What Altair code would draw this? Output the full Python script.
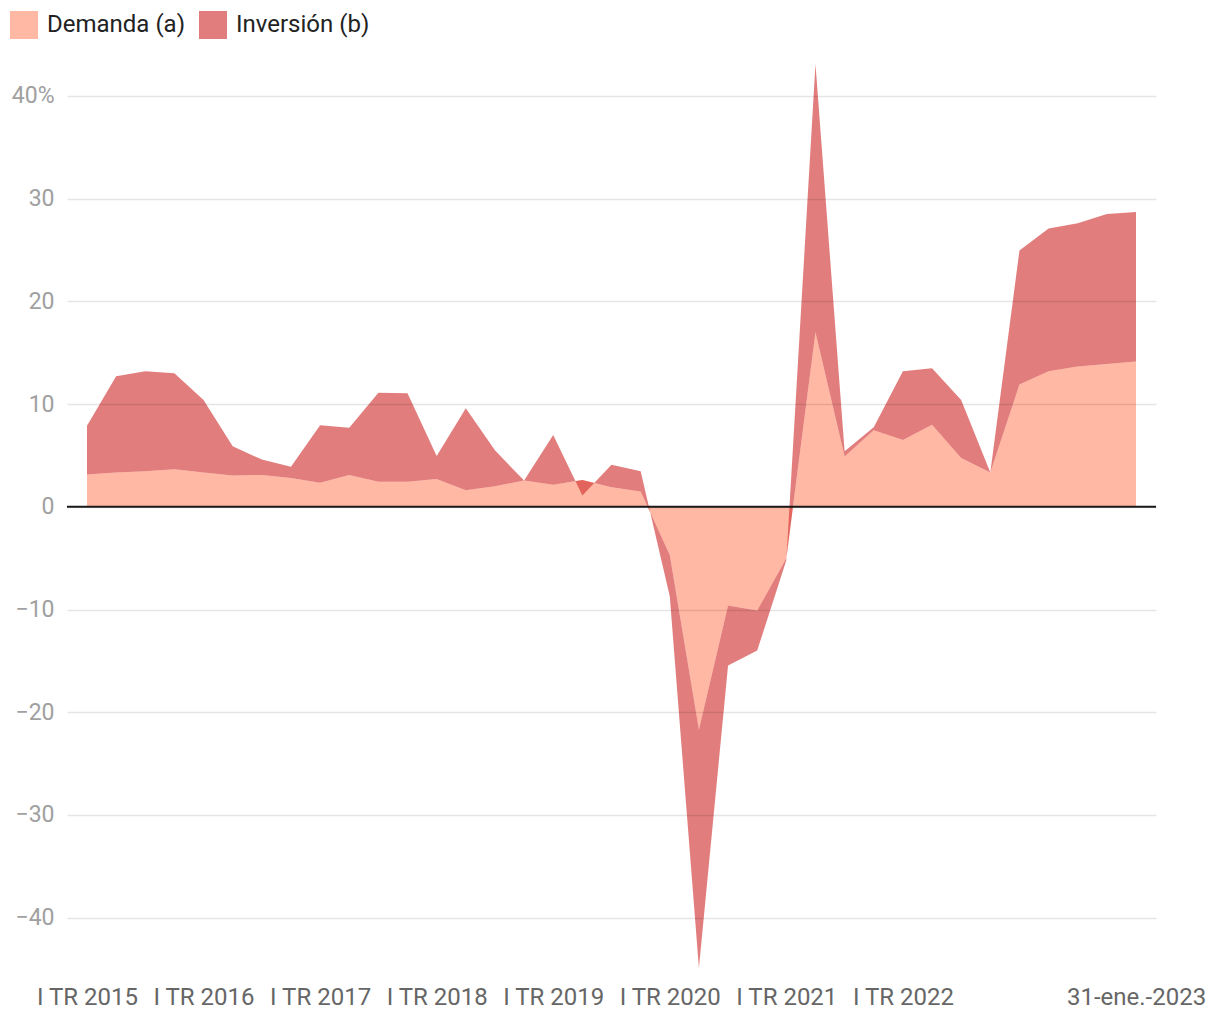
import altair as alt
import pandas as pd

# ---- data ----
periods = [
    "I TR 2015", "II TR 2015", "III TR 2015", "IV TR 2015",
    "I TR 2016", "II TR 2016", "III TR 2016", "IV TR 2016",
    "I TR 2017", "II TR 2017", "III TR 2017", "IV TR 2017",
    "I TR 2018", "II TR 2018", "III TR 2018", "IV TR 2018",
    "I TR 2019", "II TR 2019", "III TR 2019", "IV TR 2019",
    "I TR 2020", "II TR 2020", "III TR 2020", "IV TR 2020",
    "I TR 2021", "II TR 2021", "III TR 2021", "IV TR 2021",
    "I TR 2022", "II TR 2022", "III TR 2022", "IV TR 2022",
    "P33", "P34", "P35", "P36", "31-ene.-2023",
]

demanda = [3.15, 3.35, 3.45, 3.65, 3.35, 3.05, 3.1, 2.8, 2.35, 3.1,
           2.45, 2.45, 2.7, 1.6, 2.0, 2.55, 2.15, 2.6, 1.9, 1.5,
           -4.7, -21.7, -9.6, -10.1, -5.0, 17.0, 4.9, 7.45, 6.5, 8.0,
           4.75, 3.35, 11.9, 13.2, 13.65, 13.9, 14.15]

inversion = [4.75, 9.35, 9.75, 9.35, 7.05, 2.85, 1.5, 1.1, 5.6, 4.6,
             8.65, 8.6, 2.25, 8.0, 3.5, 0.0, 4.85, -1.5, 2.2, 1.95,
             -4.0, -23.2, -5.85, -3.9, -0.2, 26.1, 0.5, 0.3, 6.7, 5.5,
             5.65, 0.0, 13.05, 13.9, 13.95, 14.6, 14.55]

axis_labels = ["I TR 2015", "I TR 2016", "I TR 2017", "I TR 2018", "I TR 2019",
               "I TR 2020", "I TR 2021", "I TR 2022", "31-ene.-2023"]
y_ticks = [-40, -30, -20, -10, 0, 10, 20, 30, 40]
series_names = ["Demanda (a)", "Inversión (b)"]
series_colors = ["#ffb8a3", "#d23737"]
series_opacity = [1.0, 0.65]

rows = []
for p, d, v in zip(periods, demanda, inversion):
    rows.append({"periodo": p, "serie": series_names[0], "y0": 0.0, "y1": d})
    rows.append({"periodo": p, "serie": series_names[1], "y0": d, "y1": d + v})
df = pd.DataFrame(rows)

FONT = "Roboto"

x_enc = alt.X(
    "periodo:O",
    sort=periods,
    scale=alt.Scale(type="point", padding=0.686),
    axis=alt.Axis(values=axis_labels, labelAngle=0, ticks=False, domain=False,
                  grid=False, labelPadding=16, labelFontSize=24, labelFont=FONT,
                  labelColor="#666666", title=None, labelOverlap=False),
)

y_enc = alt.Y(
    "y1:Q",
    scale=alt.Scale(domain=[-45, 43.5], nice=False, zero=False),
    axis=alt.Axis(values=y_ticks, title=None, ticks=False, domain=False,
                  labelPadding=13, labelFontSize=23, labelFont=FONT,
                  labelColor="#a0a0a0", gridColor="#000000", gridOpacity=0.1,
                  gridWidth=1.5, zindex=1,
                  labelExpr="datum.value == 40 ? '40%' : replace(format(datum.value, 'd'), '-', '\u2212')"),
)

legend = alt.Legend(orient="none", legendX=-57, legendY=-49, direction="horizontal",
                    title=None, symbolType="square", symbolSize=784,
                    symbolStrokeWidth=0, labelFontSize=24, labelFont=FONT,
                    labelColor="#222222", labelOffset=9, columnPadding=14, padding=0)

color_enc = alt.Color("serie:N", scale=alt.Scale(domain=series_names, range=series_colors),
                      legend=legend)
opacity_enc = alt.Opacity("serie:N", scale=alt.Scale(domain=series_names, range=series_opacity),
                          legend=legend)

base = alt.Chart(df)

area_dem = base.transform_filter(alt.datum.serie == series_names[0]).mark_area(
    interpolate="linear").encode(x=x_enc, y=y_enc, y2="y0:Q", color=color_enc, opacity=opacity_enc)

area_inv = base.transform_filter(alt.datum.serie == series_names[1]).mark_area(
    interpolate="linear").encode(x=x_enc, y=y_enc, y2="y0:Q", color=color_enc, opacity=opacity_enc)

zero_rule = alt.Chart(pd.DataFrame({"cero": [0]})).mark_rule(
    color="#1a1a1a", strokeWidth=2).encode(y="cero:Q")

chart = alt.layer(area_dem, area_inv, zero_rule).properties(
    width=1089, height=909,
    padding={"left": 2, "top": 3, "right": 5, "bottom": 5},
    background="white",
).configure_view(stroke=None)

chart.save("out.html", embed_options={"renderer": "svg", "actions": False})
